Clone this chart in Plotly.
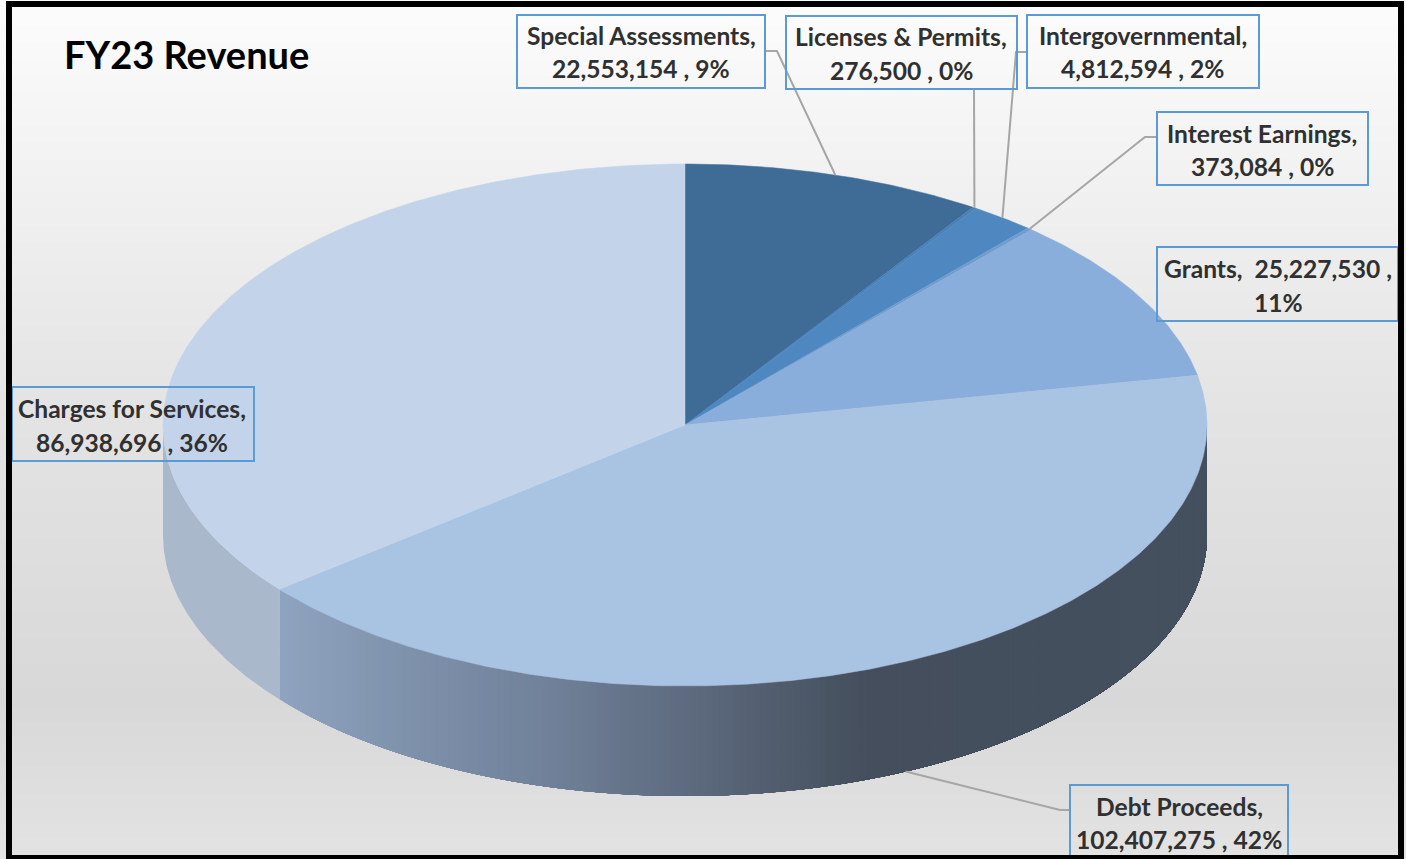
import numpy as np
import plotly.graph_objects as go

# Revenue categories, clockwise from twelve o'clock
categories = ["Special Assessments", "Licenses & Permits", "Intergovernmental",
              "Interest Earnings", "Grants", "Debt Proceeds", "Charges for Services"]
revenue = [22553154, 276500, 4812594, 373084, 25227530, 102407275, 86938696]
percent_labels = [9, 0, 2, 0, 11, 42, 36]
chart_title = "FY23 Revenue"

# Pie styling
top_colors = ["#3f6c97", "#4a80b8", "#4f88c1", "#6f9dd0", "#8aaedb", "#a9c3e3", "#c3d4ea"]
CX, CY, RX, RY, DEPTH = 685, 425, 522, 261, 110
WALL_STOPS_X = [278, 400, 550, 700, 870, 1207]
WALL_STOPS_RGB = [(143, 164, 192), (128, 147, 173), (112, 129, 153),
                  (93, 105, 125), (68, 78, 92), (68, 80, 94)]
CHARGES_WALL = "#aab8cc"

# Backdrop grey levels down the page
BACK_Y = [0, 200, 400, 700, 859]
BACK_GREY = [252, 240, 228, 216, 227]

LABEL_FONT = "Lato"
LABEL_SIZE = 24.6
TITLE_SIZE = 38
LABEL_COLOR = "#303030"
BOX_COLOR = "#5b9bd5"
LEADER_COLOR = "#a6a6a6"

# Label boxes (left, top, right, bottom), text centre and line centres
boxes = [(517, 15, 765, 88), (786, 16, 1017, 89), (1027, 15, 1259, 88),
         (1157, 112, 1368, 185), (1157, 247, 1398, 321), (12, 387, 254, 461),
         (1070, 785, 1288, 858)]
label_cx = [641, 901, 1143, 1262, 1278, 132, 1179]
label_cy = [(35, 68), (36, 70), (35, 68), (133, 166), (268, 302), (408, 442), (806, 839)]
box_index = {0: 0, 1: 1, 2: 2, 3: 3, 4: 4, 5: 6, 6: 5}

# Elbow of each leader line next to its box: (box end, bend), or a straight run
leader_elbows = {0: [(765, 51), (777, 51)], 1: [(974, 89)], 2: [(1027, 52), (1016, 52)],
                 3: [(1157, 137), (1145, 137)], 5: [(1070, 810), (1060, 810)]}

total = sum(revenue)
edges = np.concatenate([[0], np.cumsum(revenue)]) / total * 360.0


def rim(theta_deg, drop=0.0):
    t = np.radians(theta_deg)
    return CX + RX * np.sin(t), CY - RY * np.cos(t) + drop


def wall_color(x):
    parts = [np.interp(x, WALL_STOPS_X, [c[i] for c in WALL_STOPS_RGB]) for i in range(3)]
    return "rgb(%d,%d,%d)" % tuple(int(round(p)) for p in parts)


fig = go.Figure()

# Backdrop gradient
fig.add_trace(go.Heatmap(
    x=[0, 1406], y=BACK_Y, z=[[g, g] for g in BACK_GREY],
    zmin=0, zmax=255, colorscale=[[0, "#000000"], [1, "#ffffff"]],
    zsmooth="best", showscale=False, hoverinfo="skip"))


def add_poly(xs, ys, color, width=0.0):
    fig.add_trace(go.Scatter(x=xs, y=ys, mode="lines", fill="toself", fillcolor=color,
                             line=dict(color=color, width=width), hoverinfo="skip",
                             showlegend=False))


def wall_poly(a0, a1):
    th = np.linspace(a0, a1, max(4, int(a1 - a0) * 2))
    xt, yt = rim(th)
    xb, yb = rim(th, DEPTH)
    return (np.concatenate([xt, xb[::-1], xt[:1]]),
            np.concatenate([yt, yb[::-1], yt[:1]]),
            xt.mean())


# Side wall of the front half. Shaded slices are painted as overlapping strips
# from the far end toward the start, so no seams show between neighbours.
for i, name in enumerate(categories):
    a0, a1 = max(edges[i], 90.0), min(edges[i + 1], 270.0)
    if a1 <= a0:
        continue
    if name == "Charges for Services":
        xs, ys, _ = wall_poly(a0, a1)
        add_poly(xs, ys, CHARGES_WALL)
        continue
    grid = np.arange(a1, a0, -0.75)
    for start in grid:
        lo = max(a0, start - 0.75)
        xs, ys, _ = wall_poly(a0, start)
        add_poly(xs, ys, wall_color(rim(np.array([lo]))[0][0]))

# Top face wedges
for i in range(len(categories)):
    th = np.linspace(edges[i], edges[i + 1], max(3, int(edges[i + 1] - edges[i]) * 2))
    xt, yt = rim(th)
    add_poly(np.concatenate([[CX], xt, [CX]]), np.concatenate([[CY], yt, [CY]]),
             top_colors[i], 0.5)

# Leader lines from each slice's mid angle, Grants and Charges have none
for i, elbow in leader_elbows.items():
    mid = (edges[i] + edges[i + 1]) / 2
    drop = DEPTH if 90 < mid < 270 else 0
    xe, ye = rim(np.array([mid]), drop)
    pts = elbow + [(float(xe[0]), float(ye[0]))]
    fig.add_trace(go.Scatter(x=[p[0] for p in pts], y=[p[1] for p in pts], mode="lines",
                             line=dict(color=LEADER_COLOR, width=2), hoverinfo="skip",
                             showlegend=False))

shapes = []
annotations = [dict(x=62, y=54, xref="x", yref="y", xanchor="left", yanchor="middle",
                    text="<b>%s</b>" % chart_title, showarrow=False,
                    font=dict(family=LABEL_FONT, size=TITLE_SIZE, color="#000000"))]

for i, name in enumerate(categories):
    b = boxes[box_index[i]]
    shapes.append(dict(type="rect", xref="x", yref="y", x0=b[0], y0=b[1], x1=b[2], y1=b[3],
                       line=dict(color=BOX_COLOR, width=2), fillcolor="rgba(0,0,0,0)",
                       layer="above"))
    amount = f"{revenue[i]:,}"
    if name == "Grants":
        lines = (f"{name},  {amount} ,", f"{percent_labels[i]}%")
    else:
        lines = (f"{name},", f"{amount} , {percent_labels[i]}%")
    for text, y in zip(lines, label_cy[box_index[i]]):
        annotations.append(dict(x=label_cx[box_index[i]], y=y, xref="x", yref="y",
                                xanchor="center", yanchor="middle", showarrow=False,
                                text="<b>%s</b>" % text,
                                font=dict(family=LABEL_FONT, size=LABEL_SIZE, color=LABEL_COLOR)))

# Heavy black frame around the chart area
shapes.append(dict(type="rect", xref="x", yref="y", x0=9, y0=4, x1=1401, y1=858,
                   line=dict(color="#000000", width=6), fillcolor="rgba(0,0,0,0)",
                   layer="above"))

fig.update_layout(
    width=1406, height=859, margin=dict(l=0, r=0, t=0, b=0), autosize=False,
    paper_bgcolor="#ffffff", plot_bgcolor="#ffffff", showlegend=False,
    xaxis=dict(range=[0, 1406], visible=False, fixedrange=True),
    yaxis=dict(range=[859, 0], visible=False, fixedrange=True),
    shapes=shapes, annotations=annotations)

fig.write_html("out.html", config=dict(displayModeBar=False))
